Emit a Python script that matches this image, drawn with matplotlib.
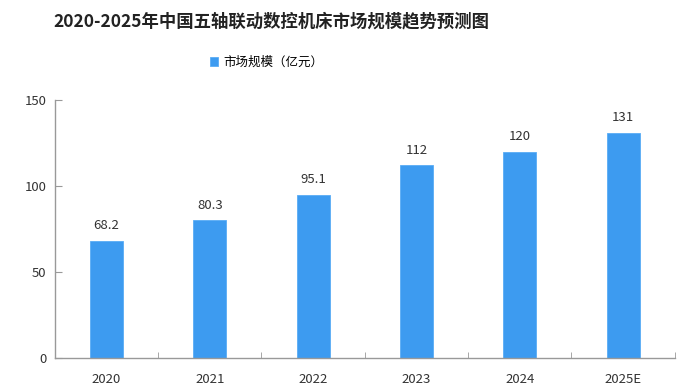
import matplotlib
matplotlib.use("Agg")
import matplotlib.pyplot as plt

categories = ["2020", "2021", "2022", "2023", "2024", "2025E"]
values = [68.2, 80.3, 95.1, 112, 120, 131]
value_labels = ["68.2", "80.3", "95.1", "112", "120", "131"]
yticks = [0, 50, 100, 150]
title = "2020-2025年中国五轴联动数控机床市场规模趋势预测图"
series_name = "市场规模（亿元）"

plt.rcParams['font.family'] = ['Noto Sans CJK SC', 'DejaVu Sans']

fig = plt.figure(figsize=(6.85, 3.85), dpi=100)
ax = fig.add_axes([0.080, 0.070, 0.905, 0.670])

x = list(range(len(categories)))
bars = ax.bar(x, values, width=0.32, color="#3D9BF0", edgecolor="#5AACF5",
              linewidth=0.6, label=series_name, zorder=2)

for xi, v, lab in zip(x, values, value_labels):
    ax.annotate(lab, (xi, v), xytext=(0, 6), textcoords="offset points",
                ha="center", va="bottom", fontsize=9.5, color="#333333")

ax.set_xlim(-0.5, len(categories) - 0.5)
ax.set_ylim(0, 150)
ax.set_yticks(yticks)
ax.set_xticks(x)
ax.set_xticklabels(categories)
ax.set_xticks([i + 0.5 for i in range(len(categories))], minor=True)

for s in ["top", "right"]:
    ax.spines[s].set_visible(False)
for s in ["left", "bottom"]:
    ax.spines[s].set_color("#999999")
    ax.spines[s].set_linewidth(1.0)

ax.tick_params(axis="y", direction="in", length=5, color="#999999",
               labelsize=9.5, labelcolor="#333333", pad=6)
ax.tick_params(axis="x", which="major", length=0, labelsize=9.5,
               labelcolor="#333333", pad=11)
ax.tick_params(axis="x", which="minor", direction="in", length=4,
               color="#999999")

fig.text(0.396, 0.945, title, ha="center", va="center", fontsize=12.5,
         fontweight="bold", color="#222222")

leg = fig.legend(handles=[bars], labels=[series_name], loc="center",
                 bbox_to_anchor=(0.389, 0.838), frameon=False, fontsize=9,
                 handlelength=0.7, handleheight=0.7, handletextpad=0.4)

fig.savefig("out.png", dpi=100)
